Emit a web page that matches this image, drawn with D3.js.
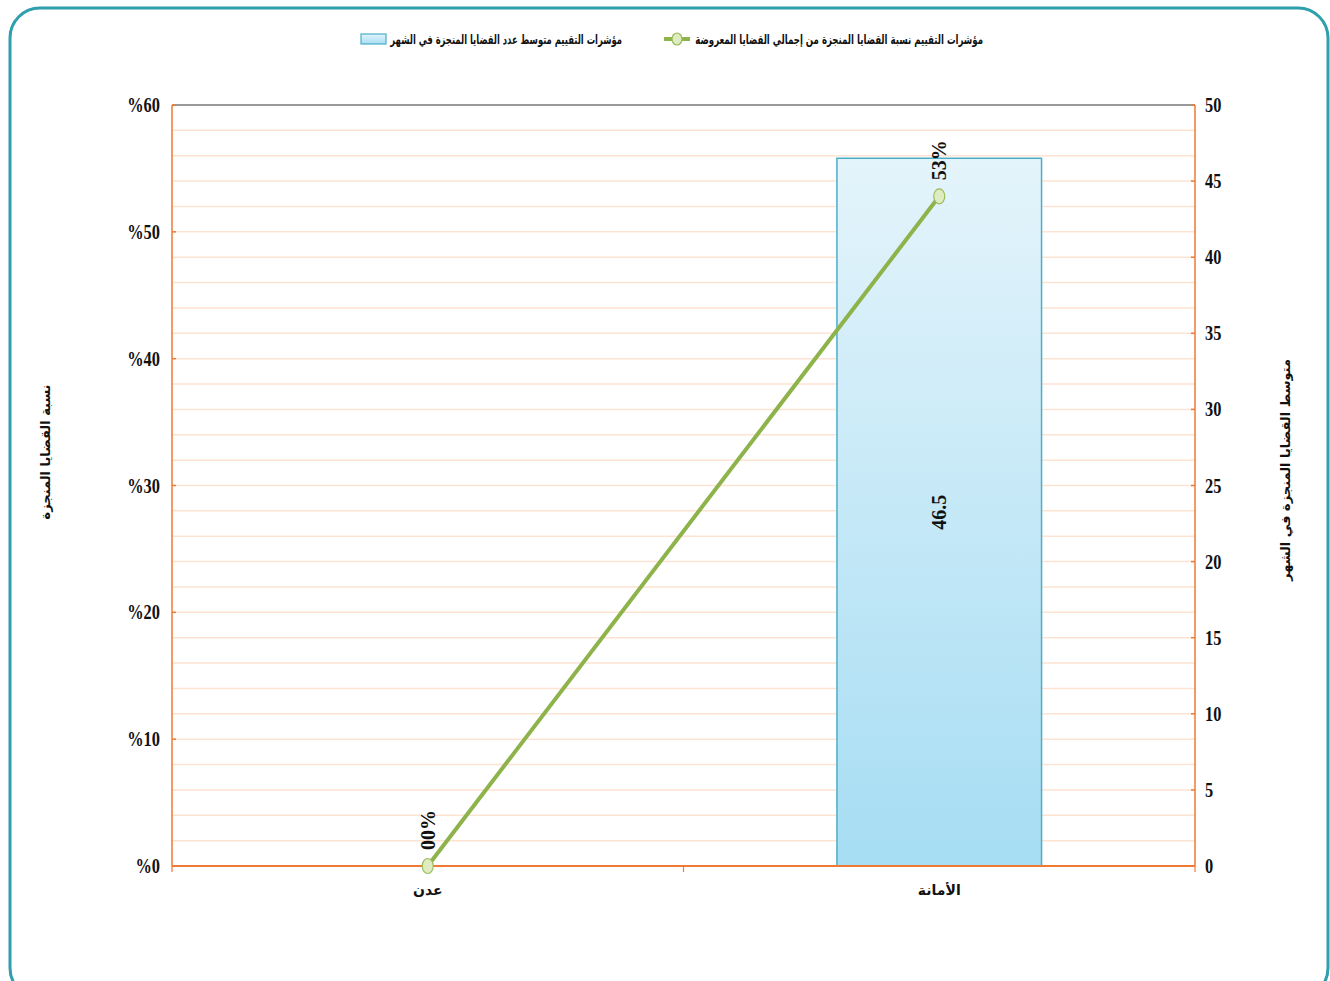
<!DOCTYPE html>
<html>
<head>
<meta charset="utf-8">
<style>
  body { margin: 0; background: #fff; }
  svg text { font-family: "Liberation Serif", "DejaVu Sans", serif; font-weight: bold; fill: #111; }
  .ar { font-family: "DejaVu Sans", sans-serif; }
</style>
<script src="https://d3js.org/d3.v7.min.js"></script>
</head>
<body>
<svg width="1330" height="981"></svg>
<script>
// data
var categories = ["عدن", "الأمانة"];
var avgCases = [null, 46.5];          // bar series, right axis
var pctDone = [0, 0.528];             // line series, left axis
var leftTicks = [0, 10, 20, 30, 40, 50, 60];
var rightTicks = [0, 5, 10, 15, 20, 25, 30, 35, 40, 45, 50];
var lineName = "مؤشرات التقييم نسبة القضايا المنجزة من إجمالي القضايا المعروضة";
var barName = "مؤشرات التقييم متوسط عدد القضايا المنجزة في الشهر";
var leftTitle = "نسبة القضايا المنجزة";
var rightTitle = "متوسط القضايا المنجزة في الشهر";

var svg = d3.select("svg");
var plotL = 172, plotR = 1195, plotT = 105, plotB = 866;
var orange = "#ef7a35";

// squeeze a text horizontally (in its own frame) to a given width
function squeeze(sel, w, pre) {
    var n = sel.node().getComputedTextLength();
    sel.attr("transform", pre + " scale(" + Math.min(1, w / n) + ",1)");
}

// frame
svg.append("rect").attr("x", 10).attr("y", 8).attr("width", 1318).attr("height", 990)
   .attr("rx", 30).attr("fill", "none").attr("stroke", "#2f9fad").attr("stroke-width", 3);

var defs = svg.append("defs");
var grad = defs.append("linearGradient").attr("id", "barGrad")
   .attr("x1", 0).attr("y1", 0).attr("x2", 0).attr("y2", 1);
grad.append("stop").attr("offset", "0%").attr("stop-color", "#e4f4fb");
grad.append("stop").attr("offset", "100%").attr("stop-color", "#a6ddf3");

var x = d3.scaleBand().domain(categories).range([plotL, plotR]);
var yL = d3.scaleLinear().domain([0, 60]).range([plotB, plotT]);
var yR = d3.scaleLinear().domain([0, 50]).range([plotB, plotT]);

// minor grid every 2%
svg.append("g").selectAll("line").data(d3.range(2, 60, 2)).enter().append("line")
   .attr("x1", plotL).attr("x2", plotR)
   .attr("y1", function(d) { return yL(d); }).attr("y2", function(d) { return yL(d); })
   .attr("stroke", "#fde3d2").attr("stroke-width", 1.5);

// top border
svg.append("line").attr("x1", plotL).attr("x2", plotR).attr("y1", plotT).attr("y2", plotT)
   .attr("stroke", "#9a9a9a").attr("stroke-width", 2);

// bars
var bw = x.bandwidth() * 0.4;
var barData = categories.map(function(c, i) { return {cat: c, v: avgCases[i]}; })
   .filter(function(d) { return d.v != null; });
svg.append("g").selectAll("rect").data(barData).enter().append("rect")
   .attr("x", function(d) { return x(d.cat) + x.bandwidth() / 2 - bw / 2; })
   .attr("y", function(d) { return yR(d.v); })
   .attr("width", bw)
   .attr("height", function(d) { return plotB - yR(d.v); })
   .attr("fill", "url(#barGrad)").attr("stroke", "#4aaec8").attr("stroke-width", 1.5);

// bar labels
svg.append("g").selectAll("text").data(barData).enter().append("text")
   .attr("transform", function(d) {
       var cx = x(d.cat) + x.bandwidth() / 2 + 7;
       var cy = (yR(d.v) + plotB) / 2;
       return "translate(" + cx + "," + cy + ") rotate(-90)";
   })
   .attr("text-anchor", "middle").style("font-size", "20px")
   .text(function(d) { return d.v; });

// axes lines
svg.append("line").attr("x1", plotL).attr("x2", plotL).attr("y1", plotT).attr("y2", plotB)
   .attr("stroke", orange).attr("stroke-width", 1.5);
svg.append("line").attr("x1", plotR).attr("x2", plotR).attr("y1", plotT).attr("y2", plotB)
   .attr("stroke", orange).attr("stroke-width", 1.5);

// left ticks
var gl = svg.append("g");
leftTicks.forEach(function(t) {
    gl.append("line").attr("x1", plotL).attr("x2", plotL + 4).attr("y1", yL(t)).attr("y2", yL(t))
      .attr("stroke", orange).attr("stroke-width", 1.5);
    gl.append("text").attr("transform", "translate(160," + (yL(t) + 7) + ") scale(0.78,1)")
      .attr("text-anchor", "end").style("font-size", "21px").text("%" + t);
});
// right ticks
var gr = svg.append("g");
rightTicks.forEach(function(t) {
    gr.append("line").attr("x1", plotR - 4).attr("x2", plotR).attr("y1", yR(t)).attr("y2", yR(t))
      .attr("stroke", orange).attr("stroke-width", 1.5);
    gr.append("text").attr("transform", "translate(1205," + (yR(t) + 7) + ") scale(0.78,1)")
      .attr("text-anchor", "start").style("font-size", "21px").text(t);
});
// category ticks
[plotL].concat(categories.map(function(c) { return x(c) + x.bandwidth(); })).forEach(function(px) {
    svg.append("line").attr("x1", px).attr("x2", px).attr("y1", plotB).attr("y2", plotB + 6)
       .attr("stroke", orange).attr("stroke-width", 1.2);
});
svg.append("g").selectAll("text").data(categories).enter().append("text")
   .attr("class", "ar")
   .attr("x", function(d) { return x(d) + x.bandwidth() / 2; })
   .attr("y", 895).attr("text-anchor", "middle").style("font-size", "14px")
   .text(function(d) { return d; });

// line series
var line = d3.line()
   .x(function(d, i) { return x(categories[i]) + x.bandwidth() / 2; })
   .y(function(d) { return yL(d * 100); });
svg.append("path").datum(pctDone).attr("d", line)
   .attr("fill", "none").attr("stroke", "#8db34a").attr("stroke-width", 4);

// bottom axis drawn over the line
svg.append("line").attr("x1", plotL).attr("x2", plotR).attr("y1", plotB).attr("y2", plotB)
   .attr("stroke", orange).attr("stroke-width", 2);

svg.append("g").selectAll("ellipse").data(pctDone).enter().append("ellipse")
   .attr("cx", function(d, i) { return x(categories[i]) + x.bandwidth() / 2; })
   .attr("cy", function(d) { return yL(d * 100); })
   .attr("rx", 5.5).attr("ry", 7.5)
   .attr("fill", "#dfebc0").attr("stroke", "#9bbb59").attr("stroke-width", 1.2);
var fmt = d3.format("02d");
svg.append("g").selectAll("text").data(pctDone).enter().append("text")
   .attr("transform", function(d, i) {
       return "translate(" + (x(categories[i]) + x.bandwidth() / 2 + 7) + "," + (yL(d * 100) - 16) + ") rotate(-90)";
   })
   .attr("text-anchor", "start").style("font-size", "20px")
   .text(function(d) { return fmt(Math.round(d * 100)) + "%"; });

// axis titles
var lt = svg.append("text").attr("class", "ar")
   .attr("text-anchor", "middle").style("font-size", "13px").text(leftTitle);
squeeze(lt, 147, "translate(50,452) rotate(-90)");
var rt = svg.append("text").attr("class", "ar")
   .attr("text-anchor", "middle").style("font-size", "13px").text(rightTitle);
squeeze(rt, 230, "translate(1290,470) rotate(-90)");

// legend
var lg = svg.append("g");
var l1 = lg.append("text").attr("class", "ar").attr("text-anchor", "end")
  .style("font-size", "13px").text(lineName);
squeeze(l1, 288, "translate(983,44)");
lg.append("line").attr("x1", 664).attr("x2", 690).attr("y1", 39).attr("y2", 39)
  .attr("stroke", "#8db34a").attr("stroke-width", 4);
lg.append("ellipse").attr("cx", 677).attr("cy", 39).attr("rx", 5).attr("ry", 6)
  .attr("fill", "#dfebc0").attr("stroke", "#9bbb59").attr("stroke-width", 1.2);
var l2 = lg.append("text").attr("class", "ar").attr("text-anchor", "end")
  .style("font-size", "13px").text(barName);
squeeze(l2, 232, "translate(622,44)");
lg.append("rect").attr("x", 361).attr("y", 34).attr("width", 25).attr("height", 10)
  .attr("fill", "url(#barGrad)").attr("stroke", "#4aaec8").attr("stroke-width", 1.2);
</script>
</body>
</html>
